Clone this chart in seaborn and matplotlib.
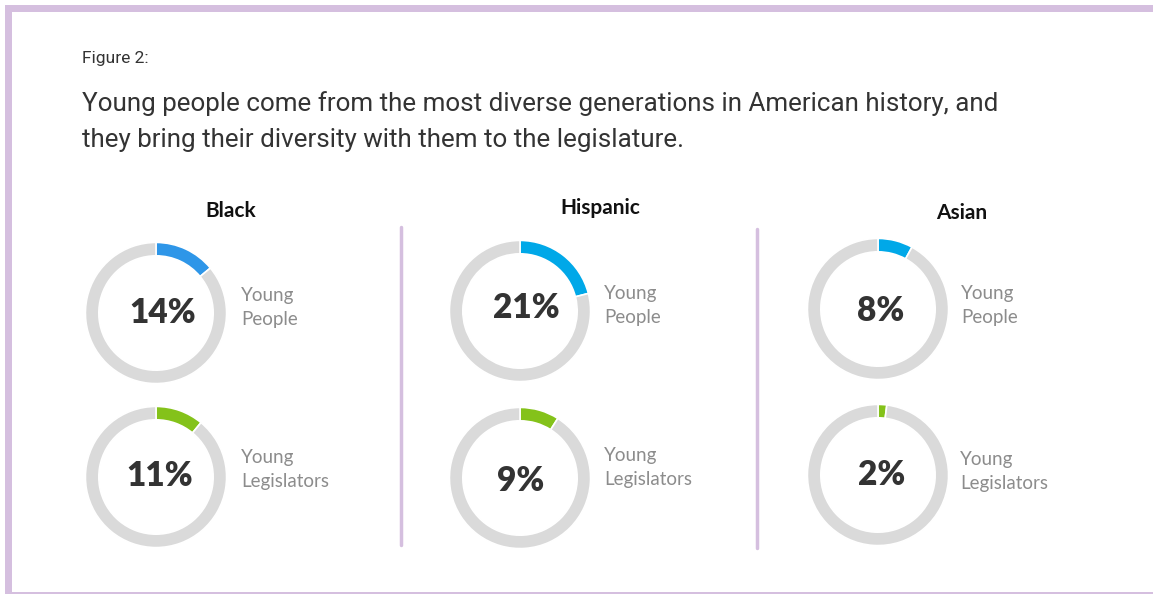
import matplotlib
matplotlib.use("Agg")
import matplotlib.pyplot as plt
import seaborn as sns
from matplotlib.patches import Rectangle
from matplotlib.lines import Line2D

# chart data
groups = ["Black", "Hispanic", "Asian"]
young_people = [14, 21, 8]
young_legislators = [11, 9, 2]
row_labels = ["Young\nPeople", "Young\nLegislators"]
people_colors = ["#2e96e8", "#00a8e8", "#00a8e8"]
legislator_color = "#84c21a"
ring_grey = "#dadada"
border_purple = "#d5bfdf"

sns.set_theme(style="white")
plt.rcParams['font.family'] = ['Lato', 'DejaVu Sans']

W, H = 1153, 594
fig = plt.figure(figsize=(W / 100, H / 100), dpi=100)
fig.patch.set_facecolor("white")


def fx(x):
    return x / W


def fy(y):
    return 1 - y / H


# frame: thick top and left, thin bottom
fig.patches.append(Rectangle((fx(5), fy(12)), fx(W), 7 / H, transform=fig.transFigure,
                             color=border_purple, lw=0))
fig.patches.append(Rectangle((fx(5), fy(594)), 7 / W, fy(5) - fy(594), transform=fig.transFigure,
                             color=border_purple, lw=0))
fig.patches.append(Rectangle((fx(5), 0), fx(W), 2.5 / H, transform=fig.transFigure,
                             color=border_purple, lw=0))

# dividers between groups
for dx, y0, y1 in [(401, 227, 545), (757, 229, 548)]:
    fig.add_artist(Line2D([fx(dx), fx(dx)], [fy(y0), fy(y1)], transform=fig.transFigure,
                          color=border_purple, lw=2.5))

# headings
title_font = ['Roboto', 'DejaVu Sans']
fig.text(fx(82), fy(63), "Figure 2:", family=title_font, fontsize=12.5, color="#333333", va="baseline")
fig.text(fx(82), fy(111), "Young people come from the most diverse generations in American history, and",
         family=title_font, fontsize=18.7, color="#333333", va="baseline")
fig.text(fx(82), fy(147), "they bring their diversity with them to the legislature.",
         family=title_font, fontsize=18.7, color="#333333", va="baseline")

# layout (pixels)
centers_x = [156, 520, 878]
centers_y = [(313, 477), (311, 478), (309, 475)]
title_pos = [(231, 211), (600, 208), (962, 213)]
pct_pos = [((163, 313), (160, 476)), ((526, 308), (521, 481)), ((881, 311), (882, 475))]
label_pos = [((241, 308), (241, 470)), ((604, 306), (604, 467)), ((961, 305), (960, 471))]
R = 72

for i, g in enumerate(groups):
    fig.text(fx(title_pos[i][0]), fy(title_pos[i][1]), g, fontsize=15, fontweight="bold",
             color="#111111", ha="center", va="center")
    vals = [young_people[i], young_legislators[i]]
    cols = [people_colors[i], legislator_color]
    for j in range(2):
        cx, cy = centers_x[i], centers_y[i][j]
        ax = fig.add_axes([fx(cx - R), fy(cy + R), 2 * R / W, 2 * R / H])
        ax.pie([vals[j], 100 - vals[j]], colors=[cols[j], ring_grey], startangle=90,
               counterclock=False, radius=1,
               wedgeprops=dict(width=0.19, edgecolor="white", linewidth=1.2))
        ax.set_xlim(-1.02, 1.02)
        ax.set_ylim(-1.02, 1.02)
        ax.set_aspect("equal")
        ax.axis("off")
        px, py = pct_pos[i][j]
        fig.text(fx(px), fy(py), f"{vals[j]}%", fontsize=24, fontweight="heavy",
                 color="#333333", ha="center", va="center")
        lx, ly = label_pos[i][j]
        fig.text(fx(lx), fy(ly), row_labels[j], fontsize=13.5, color="#8c8c8c",
                 ha="left", va="center", linespacing=1.5)

fig.savefig("out.png", dpi=100, facecolor="white")
